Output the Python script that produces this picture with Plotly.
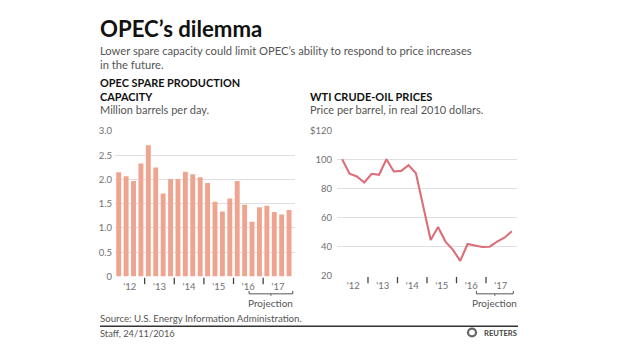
import plotly.graph_objects as go

# ---------------- data ----------------
quarters = list(range(24))  # 2012 Q1 .. 2017 Q4
spare_capacity = [2.15, 2.07, 1.97, 2.33, 2.71, 2.25, 1.71, 2.01,
                  2.01, 2.16, 2.11, 2.05, 1.93, 1.54, 1.34, 1.61,
                  1.97, 1.48, 1.13, 1.43, 1.46, 1.33, 1.28, 1.37]
wti_price = [100, 90, 88.2, 84, 90, 89.3, 100, 91.6,
             92, 96, 90.4, 67.5, 44.4, 53.3, 43.3, 37.8,
             30, 41.6, 40.4, 39.6, 39.8, 43.3, 46, 50.4]
year_labels = ["'12", "'13", "'14", "'15", "'16", "'17"]
year_centers = [1.5, 5.5, 9.5, 13.5, 17.5, 21.5]
year_separators = [3.5, 7.5, 11.5, 15.5, 19.5]
left_yticks = [0, 0.5, 1.0, 1.5, 2.0, 2.5, 3.0]
left_yticktext = ["0", "0.5", "1.0", "1.5", "2.0", "2.5", "3.0"]
right_yticks = [20, 40, 60, 80, 100, 120]
right_yticktext = ["20", "40", "60", "80", "100", "$120"]

# page has an 8px body margin, so the figure is drawn 8px smaller
OFF = 8
W, H = 620 - OFF, 355 - OFF
FONT = "Lato"
BAR_COLOR = "#eea48e"
LINE_COLOR = "#dc6e79"
GRID = "#dfdfdf"
TXT = "#555555"


def px(x):
    return (x - OFF) / W


def py(y):
    return 1 - (y - OFF) / H


fig = go.Figure()
fig.add_trace(go.Bar(x=quarters, y=spare_capacity, marker_color=BAR_COLOR,
                     marker_line_width=0, width=0.66, xaxis="x", yaxis="y",
                     hoverinfo="skip"))
fig.add_trace(go.Scatter(x=quarters, y=wti_price, mode="lines",
                         line=dict(color=LINE_COLOR, width=2.1),
                         xaxis="x2", yaxis="y2", hoverinfo="skip"))

tickfont = dict(family=FONT, size=9.5, color="#707070")
xcommon = dict(tickmode="array", tickvals=year_centers, ticktext=year_labels,
               ticks="", showgrid=False, zeroline=False, showline=False,
               tickfont=tickfont, ticklabelstandoff=3, fixedrange=True)

fig.update_layout(
    width=W, height=H, margin=dict(l=0, r=0, t=0, b=0),
    paper_bgcolor="white", plot_bgcolor="white", showlegend=False,
    xaxis=dict(domain=[px(115), px(295)], range=[-0.5, 23.8], anchor="y", **xcommon),
    yaxis=dict(domain=[py(279), py(129)], range=[0, 3.0], anchor="x",
               tickmode="array", tickvals=left_yticks, ticktext=left_yticktext,
               showgrid=True, gridcolor=GRID, gridwidth=1, zeroline=False,
               tickfont=tickfont, ticks="", ticklabelstandoff=2, fixedrange=True),
    xaxis2=dict(domain=[px(337), px(517)], range=[-0.7, 23.7], anchor="y2", **xcommon),
    yaxis2=dict(domain=[py(278), py(128)], range=[20, 120], anchor="x2",
                tickmode="array", tickvals=right_yticks, ticktext=right_yticktext,
                showgrid=True, gridcolor=GRID, gridwidth=1, zeroline=False,
                tickfont=tickfont, ticks="", ticklabelstandoff=4, fixedrange=True),
)

shapes = []
# year separators
for xr, yb in (("x", 279), ("x2", 278)):
    for s in year_separators:
        shapes.append(dict(type="line", xref=xr, yref="paper", x0=s, x1=s,
                           y0=py(yb + 1.5), y1=py(yb + 8),
                           line=dict(color="#444444", width=1.3)))


# projection brackets
def bracket(xref, xa, xb, y):
    mid = (xa + xb) / 2
    st = dict(color="#555555", width=1)
    return [
        dict(type="line", xref=xref, yref="paper", x0=xa, x1=xb, y0=py(y), y1=py(y), line=st),
        dict(type="line", xref=xref, yref="paper", x0=xa, x1=xa, y0=py(y), y1=py(y - 3), line=st),
        dict(type="line", xref=xref, yref="paper", x0=xb, x1=xb, y0=py(y), y1=py(y - 3), line=st),
        dict(type="line", xref=xref, yref="paper", x0=mid, x1=mid, y0=py(y), y1=py(y + 2), line=st),
    ]


shapes += bracket("x", 17.6, 23.5, 297)
shapes += bracket("x2", 18.2, 23.2, 297)

# footer rule
shapes.append(dict(type="line", xref="paper", yref="paper", x0=px(100), x1=px(518),
                   y0=py(330.5), y1=py(330.5), line=dict(color="#333333", width=1.5)))
# reuters logo ring
shapes.append(dict(type="circle", xref="paper", yref="paper",
                   x0=px(468), x1=px(476), y0=py(341), y1=py(333),
                   line=dict(color="#666666", width=2.2)))
fig.update_layout(shapes=shapes)

ann = []


def text(x, y, t, size=11, color=TXT, bold=False, xanchor="left", xref="paper"):
    if bold:
        t = "<b>" + t + "</b>"
    ann.append(dict(x=x if xref != "paper" else px(x), y=py(y), xref=xref, yref="paper",
                    text=t, showarrow=False, xanchor=xanchor, yanchor="middle",
                    font=dict(family=FONT, size=size, color=color)))


text(98, 23, "OPEC’s dilemma", size=22.2, color="#111111", bold=True)
text(98, 46, "Lower spare capacity could limit OPEC’s ability to respond to price increases", size=11.2)
text(98, 60.5, "in the future.", size=11.2)
text(98, 79, "OPEC SPARE PRODUCTION", size=10.9, color="#111111", bold=True)
text(98, 93, "CAPACITY", size=10.9, color="#111111", bold=True)
text(98, 106.5, "Million barrels per day.", size=11)
text(308, 93, "WTI CRUDE-OIL PRICES", size=11, color="#111111", bold=True)
text(308, 106.5, "Price per barrel, in real 2010 dollars.", size=11)
text(20.55, 306.5, "Projection", size=10, color="#555555", xanchor="center", xref="x")
text(20.7, 306.5, "Projection", size=10, color="#555555", xanchor="center", xref="x2")
text(98, 321.5, "Source: U.S. Energy Information Administration.", size=9.7)
text(98, 337.5, "Staff, 24/11/2016", size=9.3)
text(519, 337, "REUTERS", size=7.6, color="#444444", bold=True, xanchor="right")

fig.update_layout(annotations=ann)
fig.write_html("out.html")
